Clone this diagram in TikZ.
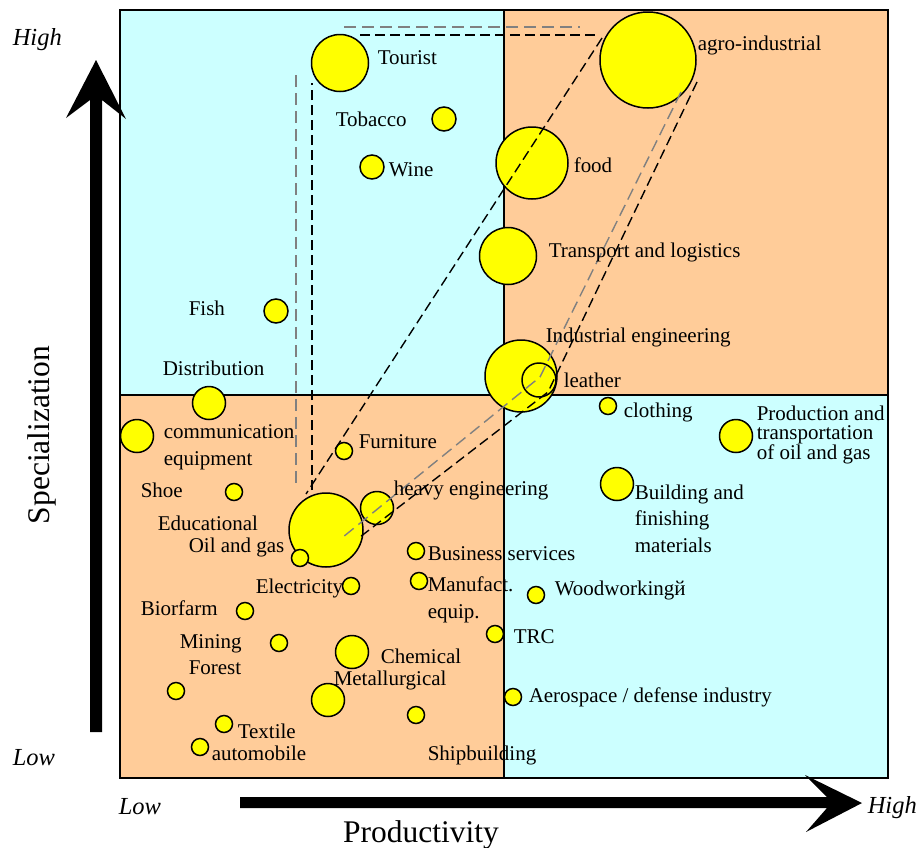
\documentclass[tikz,border=0pt]{standalone}
\usepackage{fontspec}
\setmainfont{Liberation Serif}
\usetikzlibrary{positioning}
\definecolor{qcyan}{HTML}{CCFFFF}
\definecolor{qpeach}{HTML}{FFCC99}
\definecolor{byellow}{HTML}{FFFF00}
\definecolor{dgrey}{HTML}{808080}
\tikzset{
  every picture/.style={x=1pt, y=-1pt, line width=1.5pt},
  bub/.style={circle, draw=black, fill=byellow, inner sep=0pt, line width=1.5pt, minimum size=2*#1},
  lbl/.style={anchor=base west, inner sep=0pt, align=left, font=\fontsize{21}{26.5}\selectfont},
  axlbl/.style={anchor=base west, inner sep=0pt, font=\fontsize{24.5}{26}\selectfont\itshape},
  axtitle/.style={anchor=base, inner sep=0pt, font=\fontsize{31.5}{34}\selectfont},
  dline/.style={draw=black, dash pattern=on 10pt off 5pt, line width=1.4pt},
  gline/.style={draw=dgrey, dash pattern=on 12pt off 6pt, line width=1.4pt},
}

\begin{document}
\begin{tikzpicture}
  \useasboundingbox (0,0) rectangle (921,847);
  % four quadrants
  \fill[qcyan] (120,10) rectangle (504,395);
  \fill[qpeach] (504,10) rectangle (888,395);
  \fill[qpeach] (120,395) rectangle (504,778);
  \fill[qcyan] (504,395) rectangle (888,778);
  \draw[line width=2pt] (120,10) rectangle (888,778);
  \draw[line width=2pt] (504,10) -- (504,778);
  \draw[line width=2pt] (120,395) -- (888,395);
  % axes
  \fill (90,732) -- (90,100) -- (66,118) -- (96,60) -- (126,119) -- (102,100) -- (102,732) -- cycle;
  \fill (240,797) -- (827,797) -- (805,775) -- (862,803) -- (806,832) -- (827,808) -- (240,808) -- cycle;
  \node[axlbl] (yhigh) at (12,45) {High};
  \node[axlbl] (ylow) at (12,765) {Low};
  \node[axlbl] (xlow) at (118,814) {Low};
  \node[axlbl] (xhigh) at (867,813) {High};
  \node[axtitle, rotate=90] (ytitle) at (49,435) {Specialization};
  \node[axtitle] (xtitle) at (421,842) {Productivity};
  % bubbles, big ones first
  \foreach \n/\x/\y/\r in {agro/648/60/48, food/532/163/36, indeng/521/376/36, educ/326/530/37,
      tourist/340/63/28.5, transp/508/256/28.5, leather/539/380/17,
      distr/209/403/16.5, comm/137/436/16.5, heavy/377/508/16.5, chem/352/652/16.5,
      metal/328/700/16.5, prodoil/736/436/16.5, build/617/484/16.5,
      tobacco/444/119/12, wine/372/167/12, fish/276/311/12,
      shoe/234/492/8.5, oil/300/558/8.5, furn/344/451/8.5, busin/416/551/8.5,
      elec/351/586/8.5, manuf/419/581/8.5, bio/245/611/8.5, mining/279/643/8.5,
      forest/176/691/8.5, textile/224/724/8.5, auto/200/747/8.5, ship/416/715/8.5,
      trc/495/634/8.5, aero/513/697/8.5, wood/536/595/8.5, cloth/608/406/8.5}
    \node[bub=\r] (\n) at (\x,\y) {};
  % cluster outlines
  \draw[gline] (296,75) -- (296,483);
  \draw[gline] (344,27) -- (580,27);
  \draw[gline] (681,92) -- (540,377) -- (343,537);
  \draw[dline] (312,490) -- (312,83);
  \draw[dline] (360,35) -- (597,35);
  \draw[dline] (602,38) -- (306,494);
  \draw[dline] (697,82) -- (548,392) -- (360,537);
  % labels
  \foreach \n/\x/\y/\t in {agro/697/50/agro-industrial, food/573/172/food, indeng/545/342/{Industrial engineering},
      tourist/377/64/Tourist, transp/548/257/{Transport and logistics}, leather/563/387/leather,
      distr/162/375/Distribution, heavy/393/495/{heavy engineering}, chem/380/663/Chemical,
      metal/333/685/Metallurgical, tobacco/335/126/Tobacco, wine/388/176/Wine, fish/188/315/Fish,
      shoe/140/497/Shoe, educ/157/530/Educational, oil/188/552/{Oil and gas}, furn/358/448/Furniture,
      busin/427/560/{Business services}, elec/255/593/Electricity, bio/140/615/Biorfarm,
      mining/179/648/Mining, forest/188/674/Forest, textile/237/738/Textile, auto/211/760/automobile,
      ship/427/760/Shipbuilding, trc/513/643/TRC, aero/528/702/{Aerospace / defense industry},
      wood/554/595/Woodworkingй, cloth/623/417/clothing}
    \node[lbl] (l\n) at (\x,\y) {\t};
  % multi-line labels sit on their last line
  \node[lbl] (lcomm) at (163,465) {communication\\equipment};
  \node[lbl] (lmanuf) at (427,618) {Manufact.\\equip.};
  \node[lbl] (lbuild) at (634,552) {Building and\\finishing\\materials};
  \node[lbl, font=\fontsize{21}{19.3}\selectfont] (lprodoil) at (756,459) {Production and\\transportation\\of oil and gas};
\end{tikzpicture}
\end{document}
